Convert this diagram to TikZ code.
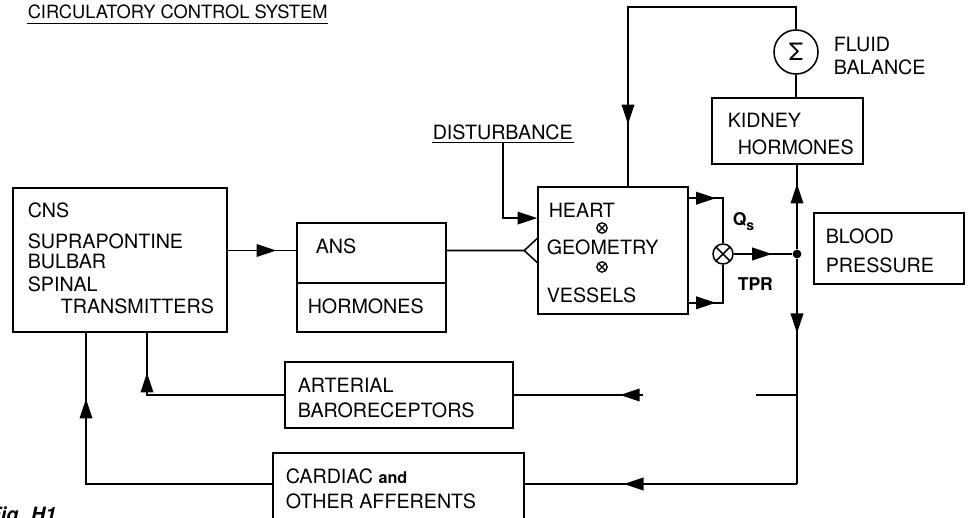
\documentclass[tikz,border=0pt]{standalone}
\usepackage{fontspec}
\setmainfont{TeX Gyre Heros}
\usetikzlibrary{arrows.meta,decorations.markings}

\tikzset{
  box/.style={draw, rectangle, inner sep=0pt},
  lbl/.style={anchor=base west, inner sep=0pt, font=\fontsize{14}{16}\selectfont},
  xcirc/.style={circle, draw, inner sep=0pt, minimum size=#1,
      path picture={\draw (path picture bounding box.north west) -- (path picture bounding box.south east)
                          (path picture bounding box.north east) -- (path picture bounding box.south west);}},
  tip/.style={-{Triangle[length=14pt,width=9pt]}},
  arr/.style={postaction={decorate}, decoration={markings,
      mark=at position #1 with {\arrow{Triangle[length=14pt,width=9pt]}}}}
}

\begin{document}
\begin{tikzpicture}[x=0.025cm, y=-0.025cm, line width=1.1pt]
\useasboundingbox (0,0) rectangle (973,518);

% title
\node [lbl, font=\fontsize{13}{16}\selectfont] (title) at (27,19) {CIRCULATORY CONTROL SYSTEM};
\draw [line width=0.8pt] ([yshift=-3.5pt]title.base west) -- ([yshift=-3.5pt]title.base east);

% boxes
\node [box, minimum width=5.35cm, minimum height=3.6cm] (cns) at (120,260) {};
\node [box, minimum width=3.725cm, minimum height=1.5cm] (ans) at (371.5,253) {};
\node [box, minimum width=3.725cm, minimum height=1.225cm] (ahorm) at (371.5,307.5) {};
\node [box, minimum width=3.75cm, minimum height=3.175cm] (heart) at (613,250.5) {};
\node [box, minimum width=3.775cm, minimum height=1.65cm] (kid) at (787.5,131) {};
\node [box, minimum width=3.75cm, minimum height=1.775cm] (bp) at (889,248.5) {};
\node [box, minimum width=5.7cm, minimum height=1.65cm] (baro) at (399,395) {};
\node [box, minimum width=6.275cm, minimum height=2.175cm] (card) at (398.5,496.5) {};

% box texts
\node [lbl] (cnst) at (27,217) {CNS};
\node [lbl] (supra) at (27,248) {SUPRAPONTINE};
\node [lbl] (bulb) at (27,268) {BULBAR};
\node [lbl] (spin) at (27,291) {SPINAL};
\node [lbl] (trans) at (60,313) {TRANSMITTERS};
\node [lbl] (anst) at (315,253) {ANS};
\node [lbl] (ahormt) at (307,313) {HORMONES};
\node [lbl] (heartt) at (548,217) {HEART};
\node [xcirc=0.26cm, line width=0.9pt] (ot1) at (602,228) {};
\node [lbl] (geom) at (546,255) {GEOMETRY};
\node [xcirc=0.26cm, line width=0.9pt] (ot2) at (602,267) {};
\node [lbl] (vess) at (546,302) {VESSELS};
\node [lbl] (kidt) at (727,128) {KIDNEY};
\node [lbl] (khormt) at (737,155) {HORMONES};
\node [lbl] (blood) at (825,243) {BLOOD};
\node [lbl] (press) at (825,272) {PRESSURE};
\node [lbl] (arter) at (297,392) {ARTERIAL};
\node [lbl] (barot) at (297,417) {BARORECEPTORS};
\node [lbl] (cardt) at (285,483) {CARDIAC\ {\bfseries\fontsize{11.5}{11}\selectfont and}};
\node [lbl] (other) at (285,508) {OTHER AFFERENTS};

% free labels
\node [lbl] (fluid) at (833,52) {FLUID};
\node [lbl] (bal) at (833,75) {BALANCE};
\node [lbl, font=\bfseries\fontsize{12.5}{12}\selectfont] (qs) at (732,226) {Q\raisebox{-0.45ex}{\fontsize{10}{10}\selectfont s}};
\node [lbl, font=\bfseries\fontsize{12.5}{12}\selectfont] (tpr) at (737,290) {TPR};
\node [lbl] (dist) at (432,140) {DISTURBANCE};
\draw [line width=0.8pt] ([yshift=-2pt]dist.base west) -- ([yshift=-2pt]dist.base east);
\node [lbl, font=\bfseries\itshape\fontsize{14}{14}\selectfont] (fig) at (-12,521) {Fig. H1};

% junctions
\node [circle, draw, minimum size=1.1cm, inner sep=0pt, font=\fontsize{17}{17}\selectfont] (sig) at (796,52) {Σ};
\node [xcirc=0.5cm] (mult) at (723,254) {};
\node [circle, fill, inner sep=2.2pt] (jn) at (797,254) {};

% forward path
\draw [arr=-0.5cm] (cns.east |- heart.west) -- (ans.west |- heart.west);
\coordinate (vtip) at ([xshift=-0.325cm]heart.west);
\draw (ans.east |- heart.west) -- (vtip) -- ++(13,-12) (vtip) -- ++(13,12);
\coordinate (du) at ([yshift=-2pt]dist.base);
\coordinate (hin) at ([yshift=0.81cm]heart.west);
\draw [tip] (du) |- (hin);
\draw [arr=0.675cm] ([yshift=-0.3cm]heart.north east) -| (mult.north);
\draw [arr=0.675cm] ([yshift=0.3cm]heart.south east) -| (mult.south);
\draw [arr=-0.5cm] (mult.east) -- (jn);

% fluid loop
\coordinate (htop) at ([xshift=0.375cm]heart.north);
\draw [arr=-1.55cm] (sig.north) -- ++(0,-22) -| (htop);
\draw (sig.south) -- (sig.south |- kid.north);
\draw [arr=-0.475cm] (jn) -- (jn |- kid.south);

% feedback
\coordinate (cl) at (797,484);
\draw [arr=1.85cm] (jn) -- (cl);
\coordinate (gapr) at (756,395);
\coordinate (gapl) at (643,395);
\draw (jn |- baro.east) -- (gapr);
\draw [arr=0.575cm] (gapl) -- (baro.east);
\draw [arr=-2.475cm] (cl) -- (cl -| card.east);
\draw [arr=-1cm] (baro.west) -| ([xshift=0.675cm]cns.south);
\draw [arr=-1.65cm] (cl -| card.west) -| ([xshift=-0.85cm]cns.south);
\end{tikzpicture}
\end{document}
